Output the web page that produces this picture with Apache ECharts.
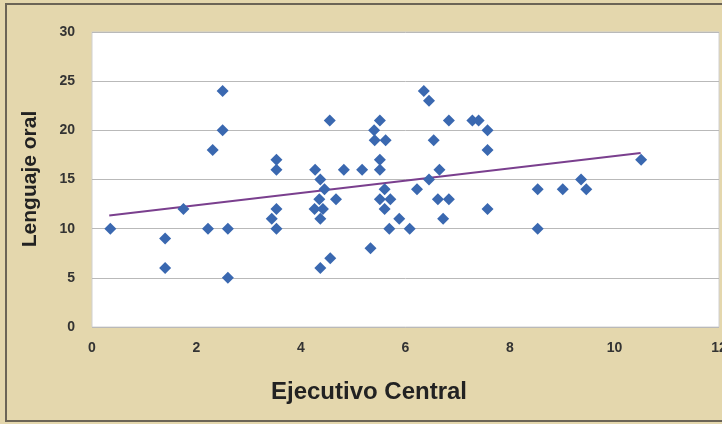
<!DOCTYPE html>
<html>
<head>
<meta charset="utf-8">
<script src="https://cdn.jsdelivr.net/npm/echarts@6/dist/echarts.min.js"></script>
<style>html,body{margin:0;padding:0;background:#e4d7ad;}#c{width:722px;height:424px;}</style>
</head>
<body>
<div id="c"></div>
<script>
const xValues = [0.35,1.4,1.4,1.75,2.22,2.31,2.5,2.5,2.6,2.6,3.53,3.53,3.53,3.44,3.53,4.55,4.27,4.37,4.45,4.35,4.67,4.26,4.42,4.37,4.56,4.37,4.82,5.17,5.51,5.4,5.41,5.62,5.51,5.51,5.6,5.51,5.71,5.6,5.33,5.69,5.88,6.08,6.22,6.35,6.45,6.54,6.65,6.45,6.62,6.83,6.72,6.83,7.28,7.4,7.57,7.57,7.57,8.53,8.53,9.01,9.36,9.46,10.51];
const yValues = [10,9,6,12,10,18,24,20,10,5,17,16,12,11,10,21,16,15,14,13,13,12,12,11,7,6,16,16,21,20,19,19,17,16,14,13,13,12,8,10,11,10,14,24,23,19,16,15,13,13,11,21,21,21,20,18,12,14,10,14,15,14,17];
const trendX = [0.33, 10.5];
const trendY = [11.35, 17.7];
const xTicks = [0,2,4,6,8,10,12];
const yTicks = [0,5,10,15,20,25,30];
const xTitle = 'Ejecutivo Central';
const yTitle = 'Lenguaje oral';

const chart = echarts.init(document.getElementById('c'));
chart.setOption({
  backgroundColor: '#e4d7ad',
  animation: false,
  grid: {left: 92, right: 3, top: 32, bottom: 97, outerBoundsMode: 'none', containLabel: false, show: true, backgroundColor: '#ffffff', borderColor: '#d0d0d0', borderWidth: 1},
  xAxis: {type: 'value', min: xTicks[0], max: xTicks[xTicks.length-1], interval: 2,
    axisLine: {show: false}, axisTick: {show: false}, splitLine: {show: false},
    axisLabel: {margin: 14, color: '#333333', fontFamily: 'Liberation Sans', fontWeight: 'bold', fontSize: 14, showMaxLabel: true}},
  yAxis: {type: 'value', min: yTicks[0], max: yTicks[yTicks.length-1], interval: 5,
    axisLine: {show: false}, axisTick: {show: false},
    splitLine: {show: true, lineStyle: {color: '#b9b9b9', width: 1}},
    axisLabel: {margin: 17, color: '#333333', fontFamily: 'Liberation Sans', fontWeight: 'bold', fontSize: 14}},
  series: [
    {type: 'line', data: trendX.map((x,i)=>[x,trendY[i]]), symbol: 'none',
      lineStyle: {color: '#7a3f8e', width: 2}, z: 3},
    {type: 'scatter', data: xValues.map((x,i)=>[x,yValues[i]]), symbol: 'diamond', symbolSize: [12,12],
      itemStyle: {color: '#3a68b0', opacity: 1}, z: 4}
  ],
  graphic: [
    {type: 'rect', shape: {x: 6, y: 4, width: 740, height: 417}, style: {fill: 'none', stroke: '#6b6456', lineWidth: 2}, silent: true},
    {type: 'text', x: 369, y: 392, style: {text: xTitle, font: 'bold 24px "Liberation Sans"', fill: '#222', align: 'center', verticalAlign: 'middle'}},
    {type: 'text', rotation: Math.PI/2, x: 30, y: 179, style: {text: yTitle, font: 'bold 21px "Liberation Sans"', fill: '#222', align: 'center', verticalAlign: 'middle'}}
  ]
});
</script>
</body>
</html>
